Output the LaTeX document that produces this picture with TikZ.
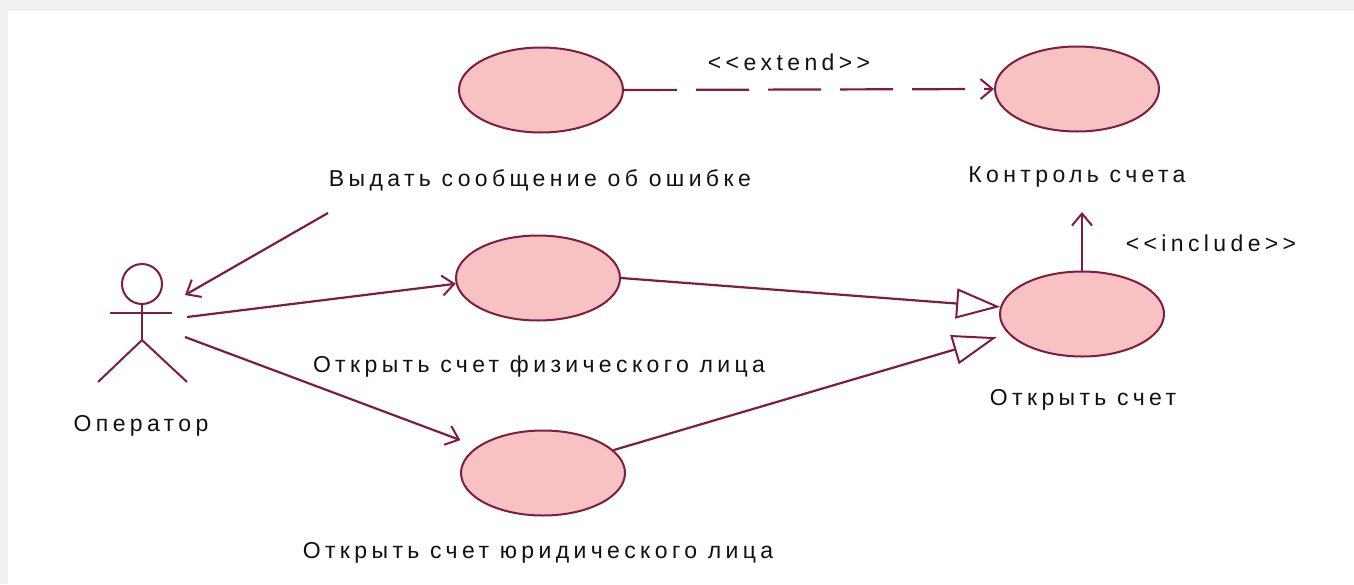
\documentclass[tikz,border=0pt]{standalone}
\usepackage{fontspec}
\setmainfont{Liberation Sans}
\usetikzlibrary{arrows.meta,shapes.geometric}
\definecolor{ln}{HTML}{7F1D3F}
\definecolor{uc}{HTML}{F8C2C2}
\definecolor{txt}{HTML}{111111}
\begin{document}
\begin{tikzpicture}[x=1pt,y=-1pt,
  usecase/.style={ellipse, draw=ln, fill=uc, line width=2pt, minimum width=164pt, minimum height=85pt, inner sep=0pt},
  lbl/.style={font=\fontsize{23}{26}\selectfont\addfontfeatures{LetterSpace=19}, text=txt, inner sep=0pt},
  conn/.style={draw=ln, line width=2.2pt},
  openarr/.style={-{Straight Barb[length=12pt,width=20pt,line width=2pt]}},
  genarr/.style={-{Triangle[open,length=44pt,width=30pt,line width=2pt,fill=white]}},
  actorline/.style={draw=ln, line width=2pt}]
\useasboundingbox (0,0) rectangle (1354,584);
\fill[black!6] (0,0) rectangle (1354,584);
\fill[white] (8,11) rectangle (1354,584);

% use cases
\node[usecase] (e1) at (541,90) {};
\node[usecase] (e2) at (1077,89) {};
\node[usecase] (e3) at (538,278) {};
\node[usecase] (e4) at (1082,314) {};
\node[usecase] (e5) at (543,473) {};

% labels
\node[lbl] (l1) at (540,180) {Выдать сообщение об ошибке};
\node[lbl] (l2) at (1077,177) {Контроль счета};
\node[lbl] (l3) at (539,367) {Открыть счет физического лица};
\node[lbl] (l4) at (1083,400) {Открыть счет};
\node[lbl] (l5) at (538,553) {Открыть счет юридического лица};
\node[lbl] (lop) at (141,426) {Оператор};
\node[lbl] (lext) at (789,62) {<{}<extend>{}>};
\node[lbl] (linc) at (1211,243) {<{}<include>{}>};

% actor
\node[circle, draw=ln, line width=2pt, minimum size=40pt, inner sep=0pt] (head) at (142,284) {};
\coordinate (hip) at (142,340);
\draw[actorline] (head.south) -- (hip);
\draw[actorline] (110,313) -- (172,313);
\draw[actorline] (98,382) -- (hip) -- (187,382);

% free ends
\coordinate (a1) at (328,213);
\coordinate (a1tip) at (185,295);
\coordinate (a2) at (187,317);
\coordinate (a3) at (185,337);
\coordinate (inctip) at (1082,212);

% connectors
\draw[conn, openarr] (a1) -- (a1tip);
\draw[conn, openarr] (a2) -- (e3.184);
\draw[conn, openarr, shorten >=18pt] (a3) -- (e5.158);
\draw[conn, genarr] (e3.east) -- (e4.175);
\draw[conn, genarr, shorten >=12pt] (e5.18) -- (e4.195);
\draw[conn, openarr] (e4.north) -- (inctip);
\draw[conn, openarr, dash pattern=on 53pt off 19pt] (e1.east) -- (e2.west);
\end{tikzpicture}
\end{document}
